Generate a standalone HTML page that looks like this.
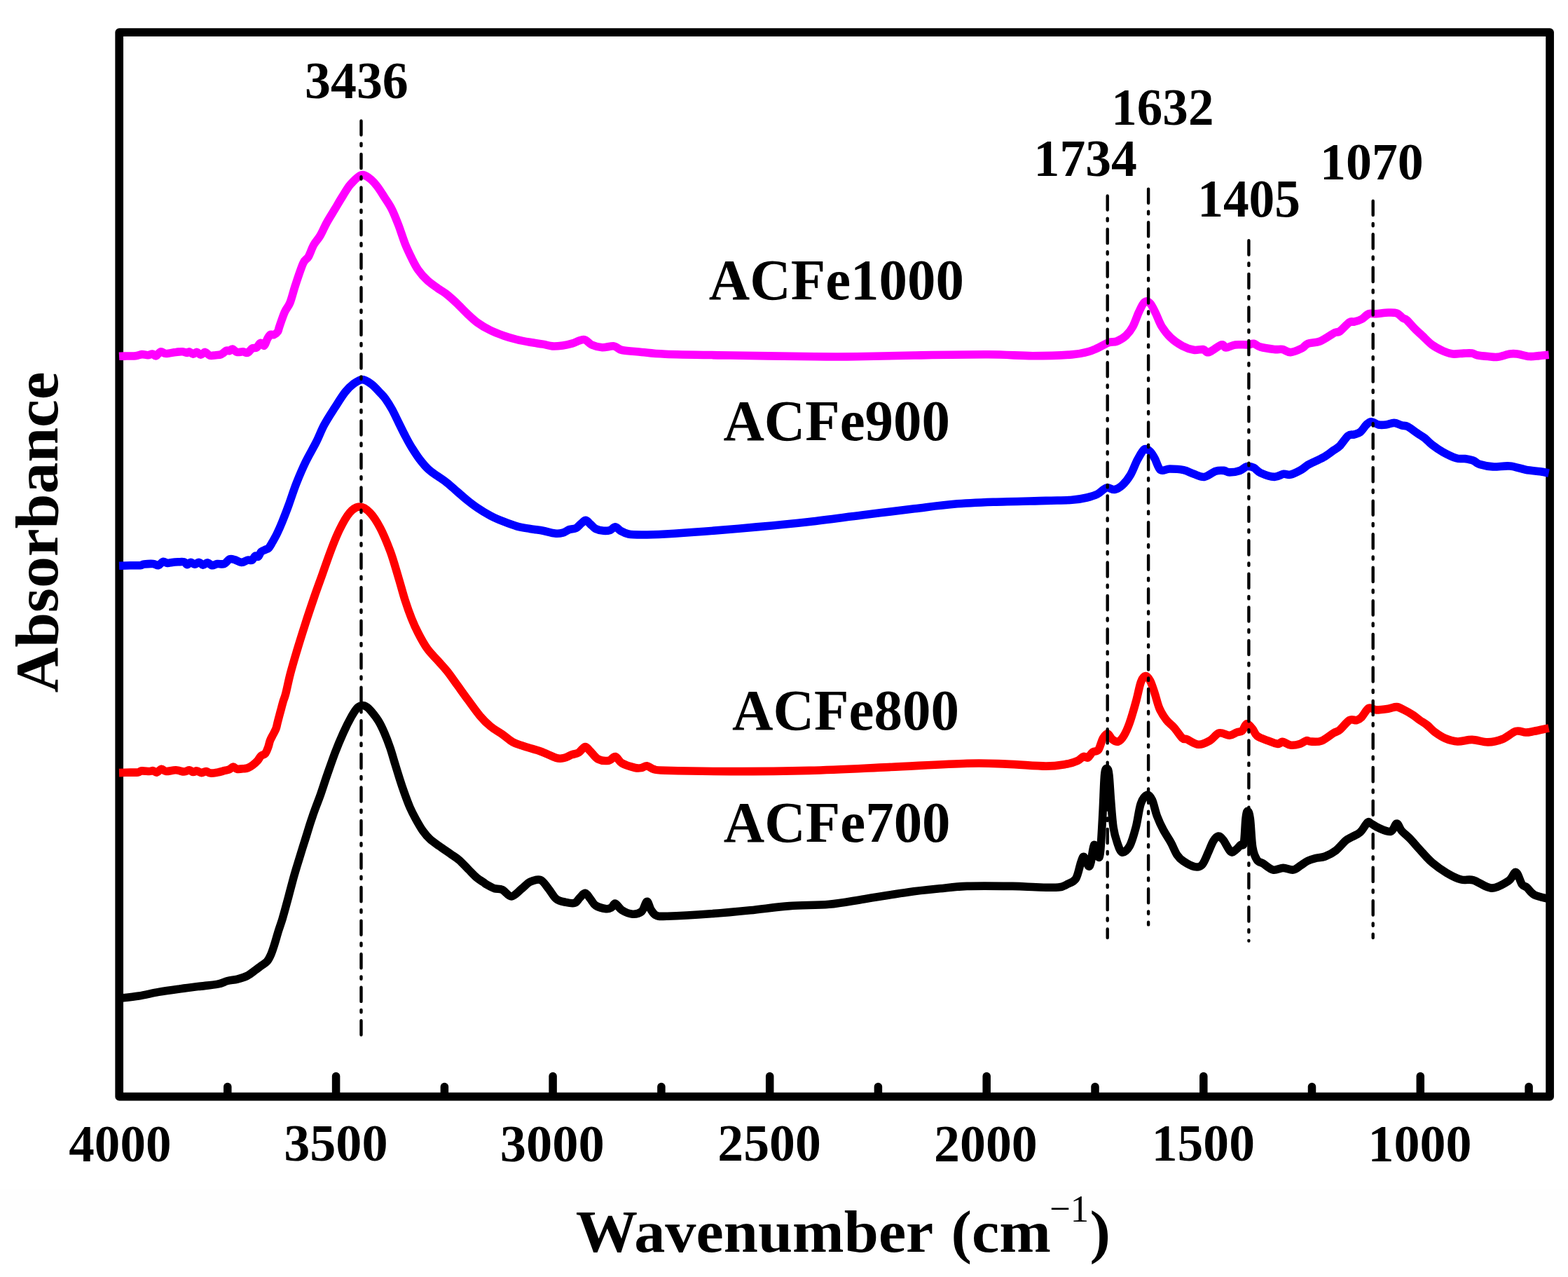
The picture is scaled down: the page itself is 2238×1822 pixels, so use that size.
<!DOCTYPE html>
<html><head><meta charset="utf-8"><title>FTIR spectra</title>
<style>html,body{margin:0;padding:0;background:#fff;overflow:hidden;width:2238px;height:1822px;}svg{display:block;}</style>
</head><body>
<svg width="2238" height="1822" viewBox="0 0 2238 1822">
<rect x="0" y="0" width="2238" height="1822" fill="#ffffff"/>
<rect x="0" y="1697" width="2238" height="44" fill="#fefefe"/>
<rect x="170.2" y="46.1" width="2041.9" height="1518.6" fill="none" stroke="#000" stroke-width="11.7" stroke-linejoin="round"/>
<path d="M324.8 1560.7V1550.5" stroke="#000" stroke-width="11.5" stroke-linecap="round"/>
<path d="M479.6 1560.7V1535.5" stroke="#000" stroke-width="11.5" stroke-linecap="round"/>
<path d="M634.4 1560.7V1550.5" stroke="#000" stroke-width="11.5" stroke-linecap="round"/>
<path d="M789.1 1560.7V1535.5" stroke="#000" stroke-width="11.5" stroke-linecap="round"/>
<path d="M943.9 1560.7V1550.5" stroke="#000" stroke-width="11.5" stroke-linecap="round"/>
<path d="M1098.7 1560.7V1535.5" stroke="#000" stroke-width="11.5" stroke-linecap="round"/>
<path d="M1253.4 1560.7V1550.5" stroke="#000" stroke-width="11.5" stroke-linecap="round"/>
<path d="M1408.2 1560.7V1535.5" stroke="#000" stroke-width="11.5" stroke-linecap="round"/>
<path d="M1563.0 1560.7V1550.5" stroke="#000" stroke-width="11.5" stroke-linecap="round"/>
<path d="M1717.8 1560.7V1535.5" stroke="#000" stroke-width="11.5" stroke-linecap="round"/>
<path d="M1872.5 1560.7V1550.5" stroke="#000" stroke-width="11.5" stroke-linecap="round"/>
<path d="M2027.3 1560.7V1535.5" stroke="#000" stroke-width="11.5" stroke-linecap="round"/>
<path d="M2182.1 1560.7V1550.5" stroke="#000" stroke-width="11.5" stroke-linecap="round"/>
<path d="M170.0 1424.5C174.7 1423.9 188.7 1422.5 198.1 1421.0C207.5 1419.5 216.9 1417.0 226.3 1415.4C235.7 1413.8 245.0 1412.5 254.4 1411.2C263.8 1409.9 273.2 1408.8 282.6 1407.6C292.0 1406.4 303.7 1405.4 310.7 1404.1C317.7 1402.8 320.1 1400.7 324.8 1399.5C329.5 1398.3 334.1 1398.3 338.8 1397.1C343.5 1395.9 348.7 1394.3 352.9 1392.2C357.1 1390.1 360.9 1386.8 364.2 1384.4C367.5 1382.1 369.8 1380.2 372.6 1378.1C375.4 1376.0 378.8 1374.5 381.1 1371.8C383.5 1369.1 385.0 1365.8 386.7 1361.9C388.4 1358.0 389.7 1353.8 391.5 1348.2C393.3 1342.7 395.4 1334.8 397.3 1328.6C399.2 1322.4 401.1 1317.6 403.0 1311.3C404.9 1305.0 407.1 1296.9 408.8 1290.6C410.5 1284.3 411.9 1279.1 413.4 1273.3C414.9 1267.5 416.5 1261.6 418.0 1256.0C419.5 1250.4 421.1 1245.1 422.6 1239.9C424.1 1234.7 425.7 1229.9 427.2 1224.9C428.7 1219.9 430.1 1215.5 431.8 1209.9C433.5 1204.3 435.9 1197.1 437.6 1191.5C439.3 1185.9 440.7 1181.3 442.2 1176.5C443.7 1171.7 445.3 1167.1 446.8 1162.7C448.3 1158.3 449.6 1154.8 451.4 1150.0C453.2 1145.2 454.9 1141.0 457.5 1133.7C460.1 1126.4 463.3 1116.0 466.8 1106.0C470.3 1096.0 474.5 1083.7 478.3 1073.7C482.1 1063.7 486.0 1054.5 489.8 1046.1C493.6 1037.6 497.9 1029.0 501.3 1023.0C504.7 1017.0 507.3 1012.8 510.0 1010.0C512.7 1007.2 515.2 1006.7 517.5 1006.5C519.8 1006.3 521.9 1007.6 524.0 1009.0C526.1 1010.4 527.3 1011.8 530.0 1015.0C532.7 1018.2 536.9 1023.4 540.0 1028.4C543.1 1033.4 545.6 1038.7 548.4 1045.1C551.2 1051.5 554.3 1059.6 556.8 1066.8C559.3 1074.0 561.2 1081.3 563.4 1088.5C565.6 1095.7 567.9 1103.2 570.1 1110.2C572.3 1117.2 574.3 1123.3 576.8 1130.3C579.3 1137.3 582.3 1145.6 585.1 1152.0C587.9 1158.4 590.4 1163.1 593.5 1168.7C596.6 1174.3 600.2 1180.7 603.5 1185.4C606.8 1190.1 609.6 1193.4 613.5 1197.0C617.4 1200.6 621.9 1203.5 626.9 1207.1C631.9 1210.7 638.9 1215.4 643.6 1218.7C648.3 1222.0 651.1 1223.5 655.3 1227.1C659.5 1230.7 664.4 1236.3 668.6 1240.5C672.8 1244.7 676.7 1249.0 680.3 1252.1C683.9 1255.1 687.6 1257.1 690.0 1258.8C692.4 1260.5 691.9 1260.5 694.5 1262.0C697.1 1263.5 702.0 1266.3 705.7 1267.6C709.5 1268.8 712.9 1267.6 717.0 1269.5C721.1 1271.4 725.4 1279.2 730.1 1278.9C734.8 1278.6 740.7 1271.0 745.1 1267.6C749.5 1264.2 752.0 1260.3 756.4 1258.3C760.8 1256.3 767.0 1253.9 771.4 1255.4C775.8 1257.0 778.9 1263.1 782.6 1267.6C786.4 1272.1 789.8 1279.3 793.9 1282.6C798.0 1285.9 802.6 1286.3 807.0 1287.3C811.4 1288.2 816.8 1289.4 820.2 1288.3C823.7 1287.2 825.2 1283.1 827.7 1280.8C830.2 1278.5 832.7 1273.9 835.2 1274.2C837.7 1274.5 840.2 1279.6 842.7 1282.6C845.2 1285.6 846.5 1289.7 850.2 1292.0C854.0 1294.3 861.5 1296.2 865.2 1296.7C869.0 1297.2 870.5 1296.0 872.7 1294.8C874.9 1293.5 875.8 1288.6 878.3 1289.2C880.8 1289.8 883.6 1296.1 887.7 1298.6C891.8 1301.1 898.0 1303.9 902.7 1304.2C907.4 1304.5 912.3 1303.5 915.8 1300.5C919.2 1297.5 921.2 1286.9 923.4 1286.4C925.6 1285.9 926.8 1294.4 929.0 1297.7C931.2 1301.0 932.6 1304.4 936.5 1306.0C940.4 1307.6 939.5 1307.6 952.5 1307.2C965.5 1306.8 994.7 1305.2 1014.4 1303.8C1034.1 1302.4 1051.9 1300.7 1070.7 1298.8C1089.5 1296.9 1108.2 1294.0 1127.0 1292.6C1145.8 1291.2 1165.5 1291.9 1183.3 1290.3C1201.1 1288.7 1215.2 1285.6 1234.0 1282.7C1252.8 1279.8 1278.1 1275.4 1295.9 1272.9C1313.7 1270.4 1326.8 1269.2 1340.9 1267.8C1355.0 1266.4 1363.0 1265.0 1380.3 1264.4C1397.6 1263.8 1428.6 1264.2 1445.0 1264.4C1461.4 1264.6 1467.8 1265.5 1478.8 1265.8C1489.8 1266.1 1503.3 1266.7 1510.7 1266.0C1518.1 1265.3 1519.1 1263.7 1523.2 1261.6C1527.3 1259.5 1532.3 1258.8 1535.6 1253.6C1538.9 1248.4 1540.9 1235.6 1542.8 1230.4C1544.7 1225.2 1545.4 1221.5 1547.2 1222.4C1549.0 1223.3 1551.9 1234.4 1553.5 1235.7C1555.1 1237.0 1555.7 1235.5 1557.0 1230.4C1558.3 1225.4 1559.9 1206.9 1561.5 1205.4C1563.1 1203.9 1565.3 1219.7 1566.8 1221.5C1568.3 1223.3 1569.2 1226.5 1570.4 1216.1C1571.6 1205.7 1573.0 1177.5 1574.0 1159.1C1575.0 1140.7 1575.6 1116.0 1576.6 1105.6C1577.6 1095.2 1579.2 1096.7 1580.2 1096.7C1581.2 1096.7 1582.0 1098.2 1582.9 1105.6C1583.8 1113.0 1584.5 1128.8 1585.5 1141.3C1586.5 1153.8 1587.6 1170.4 1589.1 1180.5C1590.6 1190.6 1592.4 1196.0 1594.5 1201.9C1596.6 1207.8 1598.6 1215.2 1601.6 1216.1C1604.6 1217.0 1609.0 1213.1 1612.3 1207.2C1615.6 1201.3 1618.5 1190.6 1621.2 1180.5C1623.9 1170.4 1625.6 1154.3 1628.3 1146.6C1631.0 1138.9 1634.5 1135.1 1637.2 1134.2C1639.9 1133.3 1642.0 1136.2 1644.4 1141.3C1646.8 1146.3 1648.8 1157.4 1651.5 1164.5C1654.2 1171.6 1657.1 1177.9 1660.4 1184.1C1663.7 1190.3 1667.8 1196.0 1671.1 1201.9C1674.4 1207.8 1677.0 1215.2 1680.0 1219.7C1683.0 1224.2 1684.7 1225.8 1688.9 1228.6C1693.1 1231.4 1700.5 1235.7 1705.0 1236.6C1709.5 1237.5 1712.3 1237.4 1715.6 1234.0C1718.9 1230.6 1721.9 1221.8 1724.6 1216.1C1727.3 1210.4 1729.3 1203.9 1731.7 1200.1C1734.1 1196.2 1736.4 1193.3 1738.8 1193.0C1741.2 1192.7 1742.9 1194.6 1745.9 1198.3C1748.9 1202.0 1753.6 1212.9 1756.6 1215.3C1759.6 1217.7 1761.4 1214.2 1763.8 1212.6C1766.2 1210.9 1769.0 1207.0 1770.9 1205.4C1772.8 1203.8 1774.2 1209.0 1775.4 1202.8C1776.6 1196.6 1777.1 1175.6 1778.0 1168.0C1778.9 1160.4 1779.7 1157.3 1780.7 1157.3C1781.8 1157.3 1783.1 1159.4 1784.3 1168.0C1785.5 1176.6 1786.2 1199.2 1787.8 1209.0C1789.4 1218.8 1791.6 1222.9 1794.1 1226.8C1796.6 1230.7 1799.2 1229.8 1803.0 1232.2C1806.8 1234.6 1812.5 1240.1 1817.2 1241.1C1822.0 1242.1 1826.8 1238.4 1831.5 1238.4C1836.2 1238.4 1841.5 1241.7 1845.7 1241.1C1849.9 1240.5 1852.9 1237.1 1856.4 1234.9C1859.9 1232.7 1863.4 1229.8 1866.9 1228.1C1870.4 1226.4 1873.4 1225.6 1877.4 1224.6C1881.5 1223.6 1886.3 1223.9 1891.2 1222.0C1896.1 1220.1 1902.0 1217.1 1906.9 1213.3C1911.8 1209.5 1917.0 1202.6 1920.7 1199.4C1924.5 1196.2 1925.9 1196.2 1929.4 1194.2C1932.9 1192.2 1937.8 1190.8 1941.6 1187.3C1945.4 1183.8 1949.4 1175.4 1952.0 1173.4C1954.6 1171.4 1954.6 1173.8 1957.2 1175.1C1959.8 1176.4 1963.0 1179.3 1967.6 1181.2C1972.2 1183.1 1980.7 1187.4 1985.0 1186.4C1989.3 1185.4 1991.0 1175.2 1993.6 1175.1C1996.2 1174.9 1997.4 1181.9 2000.6 1185.5C2003.8 1189.1 2008.4 1192.3 2012.7 1196.8C2017.0 1201.3 2021.4 1206.8 2026.6 1212.4C2031.8 1218.1 2037.6 1225.2 2044.0 1230.7C2050.4 1236.2 2057.9 1241.4 2064.8 1245.4C2071.7 1249.5 2079.2 1253.3 2085.6 1255.0C2092.0 1256.7 2095.8 1253.8 2103.0 1255.8C2110.2 1257.8 2120.6 1266.9 2129.0 1267.1C2137.4 1267.2 2147.5 1260.5 2153.3 1256.7C2159.1 1252.9 2160.5 1243.6 2163.7 1244.5C2166.9 1245.4 2169.8 1258.3 2172.4 1261.9C2175.0 1265.5 2176.4 1263.8 2179.3 1266.2C2182.2 1268.7 2184.5 1273.8 2189.7 1276.6C2194.9 1279.3 2207.1 1281.7 2210.6 1282.7" stroke="#000000" stroke-width="11.6" stroke-linejoin="round" stroke-linecap="butt" fill="none"/>
<path d="M170.0 1102.6C172.7 1102.5 181.7 1102.2 186.2 1102.1C190.7 1102.0 194.3 1102.3 197.0 1101.9C199.7 1101.5 199.7 1100.1 202.4 1099.9C205.1 1099.7 210.4 1100.5 213.1 1100.5C215.8 1100.5 216.7 1099.4 218.5 1099.7C220.3 1100.0 221.9 1102.5 223.9 1102.1C225.9 1101.7 228.2 1097.5 230.4 1097.2C232.6 1096.9 233.5 1100.2 236.9 1100.5C240.3 1100.8 246.6 1098.7 250.9 1098.8C255.2 1098.9 259.6 1101.0 262.8 1101.0C266.0 1101.0 268.2 1098.7 270.3 1098.8C272.4 1098.9 273.9 1101.3 275.7 1101.5C277.5 1101.7 279.1 1099.7 281.1 1099.9C283.1 1100.1 285.4 1102.5 287.6 1102.6C289.8 1102.7 292.0 1100.4 294.1 1100.5C296.2 1100.6 297.8 1102.8 300.5 1103.1C303.2 1103.4 306.8 1102.7 310.2 1102.1C313.6 1101.5 318.1 1100.1 321.0 1099.4C323.9 1098.7 325.5 1098.7 327.5 1097.8C329.5 1096.9 331.1 1094.1 332.9 1094.0C334.7 1093.9 335.8 1096.8 338.3 1097.2C340.8 1097.7 345.4 1097.0 348.0 1096.7C350.6 1096.5 351.7 1096.6 353.8 1095.7C355.9 1094.8 358.4 1093.3 360.7 1091.6C363.0 1089.9 365.6 1087.6 367.6 1085.4C369.6 1083.2 370.6 1080.2 372.5 1078.5C374.4 1076.8 377.0 1077.1 378.7 1075.0C380.4 1072.9 381.6 1069.1 382.8 1066.0C384.0 1062.9 384.4 1059.3 385.6 1056.3C386.8 1053.3 388.4 1050.8 389.8 1048.0C391.2 1045.2 392.9 1042.5 393.9 1039.8C394.9 1037.0 395.2 1034.6 396.0 1031.5C396.8 1028.4 397.8 1024.6 398.7 1021.1C399.6 1017.6 400.6 1014.2 401.5 1010.7C402.4 1007.2 403.3 1003.9 404.3 1000.4C405.3 996.9 406.0 996.5 407.7 990.0C409.4 983.5 411.7 971.7 414.4 961.3C417.1 950.9 420.5 939.6 424.1 927.5C427.7 915.4 432.2 901.2 436.2 888.7C440.2 876.2 444.3 864.2 448.3 852.5C452.3 840.8 456.4 829.9 460.4 818.6C464.4 807.3 468.5 795.2 472.5 784.7C476.5 774.2 480.2 764.6 484.6 755.7C489.0 746.8 494.3 737.0 499.1 731.5C503.9 726.0 508.8 723.0 513.6 723.0C518.4 723.0 523.3 726.5 528.1 731.5C532.9 736.5 537.8 743.9 542.6 753.2C547.5 762.5 552.8 775.2 557.2 787.1C561.6 799.0 565.3 812.9 568.8 824.4C572.3 835.9 575.0 846.6 578.1 856.3C581.2 866.0 584.4 874.8 587.5 882.6C590.6 890.4 593.1 896.0 596.9 903.2C600.6 910.4 605.3 919.1 610.0 925.7C614.7 932.3 620.3 937.3 625.0 942.6C629.7 947.9 633.5 951.7 638.2 957.6C642.9 963.5 648.2 971.3 653.2 978.2C658.2 985.1 662.9 991.7 668.2 998.9C673.5 1006.1 679.8 1015.1 685.1 1021.4C690.4 1027.7 694.8 1032.0 700.1 1036.4C705.4 1040.8 711.7 1044.0 717.0 1047.7C722.3 1051.5 727.0 1056.1 732.0 1058.9C737.0 1061.7 740.4 1062.3 747.0 1064.5C753.6 1066.7 763.6 1069.2 771.4 1072.0C779.2 1074.8 788.3 1079.8 793.9 1081.4C799.5 1083.0 801.5 1082.2 805.2 1081.4C809.0 1080.6 813.0 1078.0 816.4 1076.7C819.8 1075.5 822.7 1075.8 825.8 1073.9C828.9 1072.0 832.4 1065.8 835.2 1065.5C838.0 1065.2 839.6 1069.0 842.7 1072.0C845.8 1075.0 849.5 1081.1 853.9 1083.3C858.3 1085.5 864.8 1085.8 868.9 1085.2C873.0 1084.6 875.2 1078.9 878.3 1079.5C881.4 1080.1 883.0 1086.2 887.7 1088.9C892.4 1091.6 901.8 1094.4 906.5 1095.5C911.2 1096.6 913.0 1096.0 915.8 1095.5C918.6 1095.0 920.6 1092.4 923.4 1092.7C926.2 1093.0 928.3 1096.3 932.7 1097.4C937.1 1098.5 931.3 1098.7 949.6 1099.2C967.9 1099.7 1008.3 1100.6 1042.6 1100.6C1076.8 1100.6 1117.6 1100.4 1155.1 1099.4C1192.6 1098.4 1230.2 1096.3 1267.7 1094.6C1305.2 1092.9 1352.2 1090.0 1380.3 1089.3C1408.4 1088.5 1417.8 1089.5 1436.6 1090.1C1455.4 1090.7 1478.5 1093.1 1492.9 1093.1C1507.3 1093.1 1515.4 1091.3 1522.9 1090.1C1530.4 1088.8 1534.0 1087.4 1537.9 1085.6C1541.8 1083.8 1543.9 1080.3 1546.4 1079.5C1548.9 1078.7 1550.7 1082.1 1552.9 1081.0C1555.1 1079.9 1557.1 1074.9 1559.6 1073.0C1562.1 1071.1 1565.3 1073.0 1567.8 1069.7C1570.2 1066.4 1572.1 1057.1 1574.3 1053.3C1576.5 1049.5 1578.7 1046.4 1580.9 1046.7C1583.1 1047.0 1585.0 1053.0 1587.5 1054.9C1590.0 1056.8 1593.0 1059.0 1595.7 1058.2C1598.4 1057.4 1601.2 1054.4 1603.9 1050.0C1606.6 1045.6 1609.1 1040.4 1612.1 1031.9C1615.1 1023.4 1619.2 1009.0 1621.9 999.1C1624.6 989.2 1626.3 978.5 1628.5 972.8C1630.7 967.0 1632.9 964.9 1635.1 964.6C1637.3 964.3 1639.4 967.1 1641.6 971.2C1643.8 975.3 1646.0 982.7 1648.2 989.3C1650.4 995.9 1652.1 1004.3 1654.8 1010.6C1657.5 1016.9 1661.0 1022.4 1664.6 1027.0C1668.1 1031.7 1672.3 1034.1 1676.1 1038.5C1679.9 1042.9 1684.6 1050.6 1687.6 1053.3C1690.6 1056.0 1690.4 1053.4 1694.2 1054.9C1698.0 1056.4 1705.1 1062.0 1710.6 1062.3C1716.1 1062.6 1722.1 1059.3 1727.0 1056.6C1731.9 1053.9 1735.4 1047.1 1740.1 1045.9C1744.8 1044.7 1750.8 1049.3 1754.9 1049.2C1759.0 1049.1 1761.8 1046.2 1764.8 1045.1C1767.8 1044.0 1770.5 1044.6 1773.0 1042.6C1775.5 1040.5 1777.0 1033.2 1779.5 1032.8C1782.0 1032.4 1785.3 1037.2 1787.8 1040.1C1790.3 1043.0 1790.8 1047.2 1794.3 1050.0C1797.8 1052.8 1804.2 1054.7 1809.1 1056.6C1814.0 1058.5 1820.4 1061.2 1823.9 1061.5C1827.5 1061.8 1827.4 1057.9 1830.4 1058.2C1833.4 1058.5 1837.8 1062.5 1841.9 1063.1C1846.0 1063.6 1851.3 1062.6 1855.1 1061.5C1858.9 1060.4 1862.4 1057.2 1864.9 1056.6C1867.5 1056.0 1866.9 1057.9 1870.4 1058.0C1873.9 1058.1 1880.5 1059.1 1886.0 1057.1C1891.5 1055.1 1899.1 1048.5 1903.4 1045.9C1907.8 1043.3 1908.3 1044.5 1912.1 1041.5C1915.9 1038.5 1922.0 1029.9 1926.0 1027.6C1930.0 1025.3 1933.5 1028.3 1936.4 1027.6C1939.3 1026.9 1940.4 1026.2 1943.3 1023.3C1946.2 1020.4 1950.2 1012.0 1953.7 1010.3C1957.2 1008.6 1959.5 1012.8 1964.1 1012.9C1968.7 1013.0 1976.6 1011.9 1981.5 1011.2C1986.4 1010.5 1989.8 1008.3 1993.6 1008.6C1997.3 1008.9 2000.2 1011.0 2004.0 1012.9C2007.8 1014.8 2012.4 1017.3 2016.2 1019.8C2020.0 1022.2 2023.1 1025.1 2026.6 1027.6C2030.1 1030.1 2033.5 1031.8 2037.0 1034.6C2040.5 1037.3 2043.1 1040.9 2047.4 1044.1C2051.8 1047.3 2057.6 1051.4 2063.1 1053.7C2068.6 1056.0 2074.1 1057.7 2080.4 1058.0C2086.8 1058.3 2094.0 1055.2 2101.2 1055.4C2108.4 1055.6 2116.6 1059.1 2123.8 1058.9C2131.0 1058.8 2137.9 1057.1 2144.6 1054.5C2151.2 1051.9 2158.2 1044.9 2163.7 1043.3C2169.2 1041.7 2173.3 1045.0 2177.6 1045.0C2181.9 1045.0 2184.2 1044.3 2189.7 1043.3C2195.2 1042.3 2207.1 1039.6 2210.6 1038.9" stroke="#ff0000" stroke-width="11.6" stroke-linejoin="round" stroke-linecap="butt" fill="none"/>
<path d="M170.0 807.2C172.7 807.1 181.2 806.8 186.2 806.7C191.2 806.6 197.0 807.0 200.2 806.7C203.4 806.4 202.5 805.5 205.6 805.1C208.7 804.7 215.1 804.2 218.5 804.5C221.9 804.8 223.8 807.2 226.1 806.7C228.4 806.2 230.4 801.8 232.6 801.3C234.8 800.8 236.8 803.2 239.0 803.4C241.2 803.6 243.0 802.7 245.5 802.4C248.0 802.1 251.2 801.9 254.1 801.8C257.0 801.7 260.6 801.2 262.8 801.8C265.0 802.4 265.5 805.5 267.1 805.6C268.7 805.7 270.7 802.5 272.5 802.4C274.3 802.3 275.9 805.1 277.9 805.1C279.9 805.1 282.3 802.2 284.3 802.4C286.3 802.6 287.7 806.0 289.7 806.1C291.7 806.2 294.0 802.8 296.2 802.9C298.4 803.0 300.4 806.4 302.7 806.7C305.0 807.0 307.3 804.9 310.2 804.5C313.1 804.1 317.0 805.6 319.9 804.5C322.8 803.4 325.0 799.0 327.5 798.0C330.0 797.0 332.1 797.9 335.0 798.6C337.9 799.3 341.7 802.3 344.8 802.4C347.9 802.5 350.9 799.6 353.4 799.1C355.9 798.6 358.1 800.1 359.9 799.1C361.7 798.1 362.8 794.0 364.2 793.2C365.6 792.4 367.1 795.3 368.5 794.3C369.9 793.3 371.0 789.0 372.8 787.3C374.6 785.6 377.5 784.9 379.3 784.0C381.1 783.1 382.0 783.7 383.6 781.9C385.2 780.1 387.1 776.5 389.0 773.2C390.9 769.9 392.8 766.7 395.1 762.0C397.4 757.3 399.8 752.0 402.6 745.1C405.4 738.2 408.6 730.2 412.0 720.8C415.4 711.4 419.2 699.2 423.3 688.9C427.4 678.6 431.7 668.5 436.4 658.8C441.1 649.1 447.0 639.5 451.4 630.7C455.8 622.0 458.3 614.4 462.7 606.3C467.1 598.2 472.7 589.7 477.7 581.9C482.7 574.1 488.3 565.0 492.7 559.4C497.1 553.8 499.9 551.1 504.0 548.1C508.1 545.1 512.7 541.6 517.1 541.6C521.5 541.6 525.8 544.8 530.2 548.1C534.6 551.4 540.1 557.8 543.4 561.3C546.7 564.8 547.3 565.0 550.0 568.8C552.7 572.5 556.3 578.2 559.4 583.8C562.5 589.4 565.7 596.4 568.8 602.6C571.9 608.9 575.0 615.4 578.1 621.3C581.2 627.2 584.0 632.6 587.5 638.2C591.0 643.8 594.7 649.8 598.8 655.1C602.9 660.4 607.5 666.0 611.9 670.1C616.3 674.2 620.6 676.4 625.0 679.5C629.4 682.6 633.5 685.1 638.2 688.9C642.9 692.6 648.5 698.0 653.2 702.0C657.9 706.0 661.6 709.5 666.3 713.2C671.0 717.0 675.7 720.7 681.3 724.5C686.9 728.3 693.8 732.5 700.1 735.8C706.4 739.1 712.6 741.7 718.9 744.2C725.1 746.7 731.4 749.1 737.6 750.8C743.9 752.5 750.1 753.4 756.4 754.5C762.6 755.6 769.2 756.2 775.1 757.3C781.0 758.4 787.3 760.6 792.0 761.1C796.7 761.6 799.8 761.1 803.3 760.2C806.8 759.3 809.6 756.6 812.7 755.5C815.8 754.4 819.2 755.0 822.0 753.6C824.8 752.2 827.1 748.9 829.5 747.0C831.9 745.1 833.9 742.1 836.1 742.3C838.3 742.5 840.4 746.0 842.7 748.0C845.1 750.0 847.1 753.0 850.2 754.5C853.3 756.0 858.0 757.0 861.4 757.3C864.8 757.6 868.0 757.3 870.8 756.4C873.6 755.5 875.8 751.6 878.3 751.7C880.8 751.9 882.7 755.6 885.8 757.3C888.9 759.0 892.1 761.0 897.1 762.0C902.1 763.0 907.0 763.0 915.8 763.0C924.5 763.0 934.7 762.8 949.6 762.0C964.5 761.2 983.2 760.0 1005.0 758.3C1026.8 756.6 1055.1 754.2 1080.1 751.9C1105.1 749.6 1130.1 747.2 1155.1 744.4C1180.1 741.6 1205.2 738.1 1230.2 735.0C1255.2 731.9 1283.3 728.3 1305.2 725.7C1327.1 723.1 1342.7 720.9 1361.5 719.3C1380.3 717.7 1395.9 717.1 1417.8 716.3C1439.7 715.5 1474.2 714.9 1492.9 714.4C1511.6 713.9 1520.3 714.0 1530.0 713.3C1539.7 712.6 1545.3 711.4 1551.3 710.0C1557.3 708.6 1561.4 707.4 1566.1 705.1C1570.8 702.8 1575.2 697.1 1579.3 696.0C1583.4 694.9 1586.9 699.2 1590.7 698.5C1594.5 697.8 1598.4 695.4 1602.2 691.9C1606.0 688.4 1610.1 683.2 1613.7 677.2C1617.3 671.2 1620.3 661.8 1623.6 655.8C1626.9 649.8 1630.4 642.9 1633.4 641.0C1636.4 639.1 1639.1 642.1 1641.6 644.3C1644.1 646.5 1645.7 649.8 1648.2 654.2C1650.7 658.6 1652.9 668.1 1656.4 670.6C1660.0 673.1 1664.0 669.0 1669.5 669.0C1675.0 669.0 1683.5 669.4 1689.3 670.6C1695.0 671.8 1699.1 674.7 1704.0 676.3C1708.9 677.9 1713.6 681.1 1718.8 680.4C1724.0 679.7 1730.5 673.7 1735.2 672.2C1739.9 670.7 1743.4 671.1 1746.7 671.4C1750.0 671.7 1751.1 673.9 1754.9 673.9C1758.7 673.9 1765.6 672.8 1769.7 671.4C1773.8 670.0 1776.2 666.4 1779.5 665.7C1782.8 665.0 1786.1 665.8 1789.4 667.3C1792.7 668.8 1794.3 672.5 1799.2 674.7C1804.1 676.9 1813.4 680.1 1818.9 680.4C1824.4 680.7 1828.3 676.8 1832.1 676.3C1835.9 675.8 1837.8 678.2 1841.9 677.2C1846.0 676.2 1852.5 672.9 1856.7 670.6C1860.9 668.3 1863.5 665.4 1866.9 663.3C1870.4 661.2 1873.4 660.1 1877.4 658.1C1881.5 656.1 1886.9 653.8 1891.2 651.2C1895.5 648.6 1899.9 645.0 1903.4 642.5C1906.9 640.0 1908.6 639.9 1912.1 636.4C1915.6 632.9 1920.7 624.5 1924.2 621.7C1927.7 619.0 1930.0 620.8 1932.9 619.9C1935.8 619.0 1938.7 618.7 1941.6 616.4C1944.5 614.1 1947.6 608.5 1950.2 606.0C1952.8 603.5 1954.3 601.7 1957.2 601.7C1960.1 601.7 1964.1 605.3 1967.6 606.0C1971.1 606.7 1974.2 606.4 1978.0 606.0C1981.8 605.6 1986.4 603.2 1990.2 603.4C1994.0 603.5 1997.4 606.0 2000.6 606.9C2003.8 607.8 2005.5 606.7 2009.3 608.6C2013.0 610.5 2019.0 615.5 2023.1 618.2C2027.1 621.0 2030.1 622.4 2033.6 625.1C2037.1 627.9 2039.7 631.4 2044.0 634.7C2048.3 638.0 2053.8 641.9 2059.6 645.1C2065.4 648.3 2073.5 652.2 2078.7 653.8C2083.9 655.4 2086.8 654.0 2090.8 654.6C2094.9 655.2 2099.5 655.9 2103.0 657.2C2106.5 658.5 2107.0 661.0 2111.6 662.4C2116.2 663.8 2123.5 665.5 2130.7 665.9C2137.9 666.3 2147.2 664.3 2155.0 665.0C2162.8 665.7 2170.4 668.9 2177.6 670.2C2184.8 671.5 2192.9 672.0 2198.4 672.8C2203.9 673.6 2208.6 674.7 2210.6 675.1" stroke="#0000ff" stroke-width="11.6" stroke-linejoin="round" stroke-linecap="butt" fill="none"/>
<path d="M170.0 508.3C171.8 508.2 176.9 508.1 180.8 508.0C184.8 507.9 190.1 508.2 193.7 507.8C197.3 507.4 199.5 505.8 202.4 505.6C205.3 505.4 208.5 506.8 211.0 506.7C213.5 506.6 215.5 504.9 217.5 505.1C219.5 505.3 220.9 508.4 222.9 507.8C224.9 507.2 227.0 502.4 229.3 501.8C231.6 501.2 233.3 504.4 236.9 504.5C240.5 504.6 246.9 502.8 250.9 502.4C254.9 501.9 257.9 501.6 260.6 501.8C263.3 502.0 265.5 503.4 267.1 503.4C268.7 503.4 268.9 501.5 270.3 501.8C271.7 502.1 273.9 505.0 275.7 505.1C277.5 505.2 279.3 502.2 281.1 502.4C282.9 502.6 284.5 506.1 286.5 506.1C288.5 506.1 290.9 502.2 293.0 502.4C295.1 502.6 296.9 506.5 299.4 507.2C301.9 507.9 305.4 507.0 308.1 506.7C310.8 506.4 313.1 506.7 315.6 505.6C318.1 504.5 321.2 501.0 323.2 500.2C325.2 499.4 326.1 501.1 327.5 500.7C328.9 500.3 330.0 497.7 331.8 498.0C333.6 498.3 335.8 501.8 338.3 502.4C340.8 503.0 344.4 501.6 346.9 501.8C349.4 502.0 351.2 504.2 353.4 503.4C355.6 502.6 357.8 498.2 359.9 497.0C362.0 495.8 364.3 497.2 366.3 495.9C368.3 494.6 369.9 489.8 371.7 489.4C373.5 488.9 375.5 494.1 377.1 493.2C378.7 492.3 380.0 486.6 381.4 484.0C382.8 481.4 384.1 478.7 385.7 477.6C387.3 476.5 389.3 478.3 391.1 477.6C392.9 476.9 395.2 475.2 396.5 473.2C397.8 471.2 397.2 470.5 398.9 465.8C400.5 461.1 403.9 450.7 406.4 445.1C408.9 439.5 411.4 438.2 413.9 432.0C416.4 425.8 418.3 417.0 421.4 407.6C424.5 398.2 429.6 382.6 432.7 375.7C435.8 368.8 437.7 370.7 440.2 366.3C442.7 361.9 444.9 354.5 447.7 349.5C450.5 344.5 453.9 341.6 457.0 336.3C460.1 331.0 462.9 323.9 466.4 317.6C469.8 311.4 473.9 305.1 477.7 298.8C481.5 292.5 485.2 285.9 489.0 280.0C492.8 274.1 495.8 268.2 500.2 263.2C504.6 258.2 510.8 251.6 515.2 250.0C519.6 248.4 522.8 251.3 526.5 253.8C530.2 256.3 534.0 260.3 537.7 265.0C541.5 269.7 545.4 276.3 549.0 281.9C552.6 287.5 556.1 292.2 559.4 298.8C562.7 305.4 565.7 313.2 568.8 321.3C571.9 329.4 575.0 339.8 578.1 347.6C581.2 355.4 584.4 361.9 587.5 368.2C590.6 374.4 593.1 379.8 596.9 385.1C600.6 390.4 605.3 395.7 610.0 400.1C614.7 404.5 620.6 408.3 625.0 411.4C629.4 414.5 631.9 415.5 636.3 418.9C640.7 422.3 646.3 427.3 651.3 432.0C656.3 436.7 661.3 442.3 666.3 447.0C671.3 451.7 675.7 456.1 681.3 460.2C686.9 464.3 693.8 468.3 700.1 471.4C706.4 474.5 712.6 476.7 718.9 478.9C725.1 481.1 731.4 482.9 737.6 484.5C743.9 486.1 750.1 487.2 756.4 488.3C762.6 489.4 769.8 490.2 775.1 491.1C780.4 492.0 783.6 493.6 788.3 493.9C793.0 494.2 798.6 493.6 803.3 493.0C808.0 492.4 811.4 491.6 816.4 490.2C821.4 488.8 828.6 484.2 833.3 484.5C838.0 484.8 840.2 490.1 844.6 492.0C849.0 493.9 854.3 495.5 859.6 495.8C864.9 496.1 871.8 493.3 876.5 493.9C881.2 494.5 881.1 498.1 887.7 499.5C894.3 500.9 905.6 501.4 915.9 502.4C926.2 503.3 928.5 504.4 949.6 505.2C970.7 506.0 1007.1 506.4 1042.6 507.0C1078.1 507.6 1132.6 508.5 1162.6 508.8C1192.6 509.1 1198.9 509.1 1222.7 508.8C1246.5 508.5 1273.9 507.5 1305.2 507.0C1336.5 506.5 1382.2 505.7 1410.3 505.8C1438.4 505.9 1454.0 507.7 1474.0 507.7C1494.0 507.7 1516.8 506.9 1530.0 505.9C1543.2 504.9 1547.0 503.3 1553.0 501.8C1559.0 500.3 1561.2 499.1 1566.1 496.9C1571.0 494.7 1577.8 490.3 1582.5 488.7C1587.2 487.1 1589.9 488.6 1594.0 487.0C1598.1 485.4 1603.4 482.4 1607.2 478.8C1611.0 475.2 1614.0 471.2 1617.0 465.7C1620.0 460.2 1622.5 451.8 1625.2 446.0C1627.9 440.2 1630.7 433.4 1633.4 431.2C1636.1 429.0 1638.9 430.1 1641.6 432.8C1644.3 435.5 1647.0 442.1 1649.8 447.6C1652.5 453.1 1654.5 459.9 1658.1 465.7C1661.7 471.4 1666.3 477.5 1671.2 482.1C1676.1 486.8 1682.1 490.7 1687.6 493.6C1693.1 496.5 1699.1 498.5 1704.0 499.3C1708.9 500.1 1713.6 497.9 1717.2 498.5C1720.8 499.1 1721.0 503.7 1725.4 502.6C1729.8 501.5 1739.3 493.0 1743.4 491.9C1747.5 490.8 1746.7 496.0 1750.0 496.0C1753.3 496.0 1757.9 492.6 1763.1 491.9C1768.3 491.2 1776.8 492.2 1781.2 491.9C1785.6 491.6 1786.4 489.8 1789.4 490.3C1792.4 490.9 1794.3 493.8 1799.2 495.2C1804.1 496.6 1813.7 497.9 1818.9 498.5C1824.1 499.1 1826.6 497.8 1830.4 498.5C1834.2 499.2 1837.2 502.9 1841.9 502.6C1846.6 502.3 1854.2 498.9 1858.3 496.9C1862.4 494.8 1862.3 492.0 1866.6 490.3C1870.9 488.6 1877.9 489.4 1884.3 486.8C1890.7 484.2 1900.5 476.9 1905.1 474.6C1909.7 472.3 1908.6 475.3 1912.1 472.9C1915.6 470.4 1922.5 462.2 1926.0 459.9C1929.5 457.6 1930.0 459.7 1932.9 459.0C1935.8 458.3 1939.8 457.4 1943.3 455.5C1946.8 453.6 1950.2 449.0 1953.7 447.7C1957.2 446.4 1959.5 448.0 1964.1 447.7C1968.7 447.4 1976.6 446.1 1981.5 446.0C1986.4 445.9 1990.1 445.6 1993.6 446.9C1997.1 448.2 2000.0 452.2 2002.3 453.8C2004.6 455.4 2004.6 453.8 2007.5 456.4C2010.4 459.0 2015.9 465.6 2019.7 469.4C2023.5 473.2 2026.0 475.2 2030.1 479.0C2034.1 482.8 2039.1 488.4 2044.0 492.0C2048.9 495.6 2054.7 498.5 2059.6 500.7C2064.5 502.9 2068.6 504.4 2073.5 505.0C2078.4 505.6 2084.5 504.2 2089.1 504.1C2093.7 504.0 2098.0 503.7 2101.2 504.1C2104.4 504.5 2104.4 506.0 2108.2 506.7C2112.0 507.4 2118.9 508.1 2123.8 508.5C2128.7 508.9 2132.5 509.9 2137.7 509.3C2142.9 508.7 2150.4 505.7 2155.0 505.0C2159.6 504.3 2160.9 504.4 2165.5 505.0C2170.1 505.6 2177.6 508.1 2182.8 508.5C2188.0 508.9 2192.1 508.0 2196.7 507.6C2201.3 507.2 2208.3 506.4 2210.6 506.2" stroke="#ff00ff" stroke-width="11.6" stroke-linejoin="round" stroke-linecap="butt" fill="none"/>
<path d="M515.5 172.4V1477.5" stroke="#000" stroke-width="4.4" stroke-linecap="round" stroke-dasharray="20.2 12 3.4 11.95" fill="none"/>
<path d="M1580.7 279.4V1338.0" stroke="#000" stroke-width="4.4" stroke-linecap="round" stroke-dasharray="20.2 12 3.4 11.95" fill="none"/>
<path d="M1639.1 269.6V1319.4" stroke="#000" stroke-width="4.4" stroke-linecap="round" stroke-dasharray="20.2 12 3.4 11.95" fill="none"/>
<path d="M1782.4 343.3V1342.5" stroke="#000" stroke-width="4.4" stroke-linecap="round" stroke-dasharray="20.2 12 3.4 11.95" fill="none"/>
<path d="M1959.7 286.7V1338.0" stroke="#000" stroke-width="4.4" stroke-linecap="round" stroke-dasharray="20.2 12 3.4 11.95" fill="none"/>
<text transform="translate(435.09 140.47) scale(0.9902 1)" font-family="'Liberation Serif','Times New Roman',serif" font-weight="bold" font-size="74.60">3436</text>
<text transform="translate(1586.31 177.85) scale(0.9888 1)" font-family="'Liberation Serif','Times New Roman',serif" font-weight="bold" font-size="73.89">1632</text>
<text transform="translate(1475.58 251.49) scale(0.9970 1)" font-family="'Liberation Serif','Times New Roman',serif" font-weight="bold" font-size="73.92">1734</text>
<text transform="translate(1709.16 309.45) scale(0.9619 1)" font-family="'Liberation Serif','Times New Roman',serif" font-weight="bold" font-size="76.37">1405</text>
<text transform="translate(1884.03 256.30) scale(0.9864 1)" font-family="'Liberation Serif','Times New Roman',serif" font-weight="bold" font-size="74.93">1070</text>
<text transform="translate(1011.86 427.13) scale(0.9809 1)" font-family="'Liberation Serif','Times New Roman',serif" font-weight="bold" font-size="82.52">ACFe1000</text>
<text transform="translate(1032.38 628.08) scale(0.9863 1)" font-family="'Liberation Serif','Times New Roman',serif" font-weight="bold" font-size="82.03">ACFe900</text>
<text transform="translate(1044.92 1040.52) scale(0.9887 1)" font-family="'Liberation Serif','Times New Roman',serif" font-weight="bold" font-size="81.96">ACFe800</text>
<text transform="translate(1032.87 1200.67) scale(0.9874 1)" font-family="'Liberation Serif','Times New Roman',serif" font-weight="bold" font-size="81.99">ACFe700</text>
<text transform="translate(98.36 1656.56) scale(0.9743 1)" font-family="'Liberation Serif','Times New Roman',serif" font-weight="bold" font-size="74.95">4000</text>
<text transform="translate(405.13 1656.16) scale(0.9943 1)" font-family="'Liberation Serif','Times New Roman',serif" font-weight="bold" font-size="74.62">3500</text>
<text transform="translate(713.80 1657.11) scale(0.9985 1)" font-family="'Liberation Serif','Times New Roman',serif" font-weight="bold" font-size="74.60">3000</text>
<text transform="translate(1024.27 1656.36) scale(0.9870 1)" font-family="'Liberation Serif','Times New Roman',serif" font-weight="bold" font-size="74.75">2500</text>
<text transform="translate(1333.01 1656.61) scale(0.9869 1)" font-family="'Liberation Serif','Times New Roman',serif" font-weight="bold" font-size="74.87">2000</text>
<text transform="translate(1643.77 1656.34) scale(0.9820 1)" font-family="'Liberation Serif','Times New Roman',serif" font-weight="bold" font-size="74.93">1500</text>
<text transform="translate(1952.54 1656.65) scale(0.9873 1)" font-family="'Liberation Serif','Times New Roman',serif" font-weight="bold" font-size="74.99">1000</text>
<text transform="translate(821.64 1786.00) scale(1.0370 1)" font-family="'Liberation Serif','Times New Roman',serif" font-weight="bold" font-size="85.25">Wavenumber</text>
<text transform="translate(1357.52 1786.00) scale(1.0370 1)" font-family="'Liberation Serif','Times New Roman',serif" font-weight="bold" font-size="85.25">(cm</text>
<text transform="translate(1498.01 1743.30) scale(0.9560 1)" font-family="'Liberation Serif','Times New Roman',serif" font-weight="normal" font-size="55.08">−1</text>
<text transform="translate(1555.50 1786.00) scale(1.0370 1)" font-family="'Liberation Serif','Times New Roman',serif" font-weight="bold" font-size="85.25">)</text>
<text transform="translate(82.24 988.51) rotate(-90) scale(1.0230 1)" font-family="'Liberation Serif','Times New Roman',serif" font-weight="bold" font-size="87.63">Absorbance</text>
</svg>
</body></html>
